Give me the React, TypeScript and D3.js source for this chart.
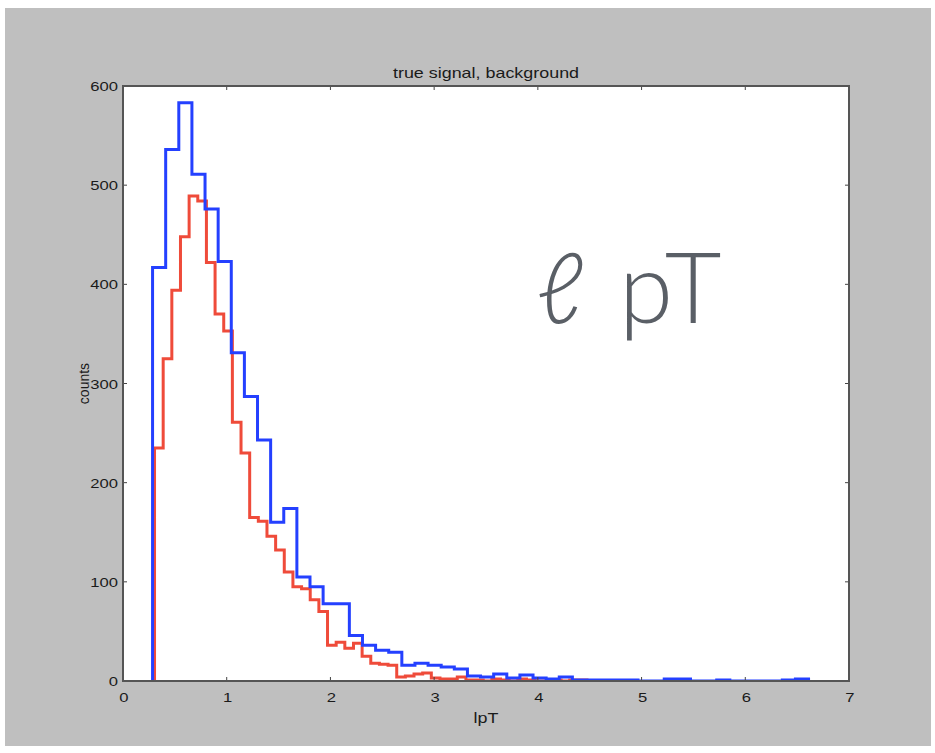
import React from "react";
import * as d3 from "d3";

// Histogram counts per bin (step outlines)
const blueCounts = [
  417, 536, 583, 511, 476, 423, 331, 287, 243, 160,
  174, 105, 95, 78, 78, 46, 36, 31, 29, 16,
  18, 16, 14, 12, 5, 4, 7, 3, 6, 3,
  2, 4, 1, 1, 1, 1, 1, 0, 0, 2,
  2, 0, 0, 1, 0, 0, 0, 0, 1, 2,
];
const redCounts = [
  235, 325, 394, 448, 489, 484, 422, 370, 353, 261,
  230, 165, 161, 146, 132, 110, 95, 93, 82, 70,
  36, 39, 33, 38, 25, 18, 17, 16, 4, 5,
  7, 8, 3, 2, 2, 4, 1, 1, 0, 2,
  1, 0, 2, 1, 0, 0, 1, 0, 1, 1,
];
// Histogram ranges (lpT)
const blueRange = [0.285, 6.61];
const redRange = [0.304, 4.474];

const xTicks = [0, 1, 2, 3, 4, 5, 6, 7];
const yTicks = [0, 100, 200, 300, 400, 500, 600];

const W = 935;
const H = 753;
const plot = { left: 123, right: 849, top: 86, bottom: 681 };
const SX = 1.28; // horizontal stretch of the labels

function edges(range: number[], n: number) {
  const w = (range[1] - range[0]) / n;
  return d3.range(n + 1).map((i) => range[0] + i * w);
}

function Label({ x, y, anchor = "middle", size = 14, children, fill = "#1a1a1a" }: any) {
  return (
    <g transform={`translate(${x},${y}) scale(${SX},1)`}>
      <text
        textAnchor={anchor}
        fontFamily="'Liberation Sans', Arial, sans-serif"
        fontSize={size}
        fill={fill}
      >
        {children}
      </text>
    </g>
  );
}

export default function App() {
  const x = d3.scaleLinear().domain([0, 7]).range([plot.left, plot.right]);
  const y = d3.scaleLinear().domain([0, 600]).range([plot.bottom, plot.top]);
  const line = d3.line<[number, number]>().x((d) => x(d[0])).y((d) => y(d[1]));

  const stepPath = (counts: number[], range: number[]) => {
    const e = edges(range, counts.length);
    const pts: [number, number][] = [[e[0], 0]];
    counts.forEach((c, i) => {
      pts.push([e[i], c]);
      pts.push([e[i + 1], c]);
    });
    pts.push([e[counts.length], 0]);
    return line(pts) || "";
  };

  const tickLen = 4;
  return (
    <svg
      width={W}
      height={H}
      style={{ position: "absolute", left: 0, top: 0, background: "#fff" }}
    >
      <defs>
        <clipPath id="plotClip">
          <rect
            x={plot.left}
            y={plot.top}
            width={plot.right - plot.left}
            height={plot.bottom - plot.top}
          />
        </clipPath>
      </defs>
      <rect x={5} y={8} width={926} height={738} fill="#bfbfbf" />
      <rect
        x={plot.left}
        y={plot.top}
        width={plot.right - plot.left}
        height={plot.bottom - plot.top}
        fill="#fff"
      />

      <g clipPath="url(#plotClip)" fill="none" strokeWidth={3} strokeLinejoin="miter">
        <path d={stepPath(redCounts, redRange)} stroke="#ef4b3a" />
        <path d={stepPath(blueCounts, blueRange)} stroke="#2440ff" />
      </g>

      {/* ticks on all four sides, pointing inward */}
      <g stroke="#444" strokeWidth={1}>
        {xTicks.map((t) => (
          <g key={"xt" + t}>
            <line x1={x(t)} x2={x(t)} y1={plot.bottom} y2={plot.bottom - tickLen} />
            <line x1={x(t)} x2={x(t)} y1={plot.top} y2={plot.top + tickLen} />
          </g>
        ))}
        {yTicks.map((t) => (
          <g key={"yt" + t}>
            <line x1={plot.left} x2={plot.left + tickLen} y1={y(t)} y2={y(t)} />
            <line x1={plot.right} x2={plot.right - tickLen} y1={y(t)} y2={y(t)} />
          </g>
        ))}
      </g>

      <rect
        x={plot.left}
        y={plot.top}
        width={plot.right - plot.left}
        height={plot.bottom - plot.top}
        fill="none"
        stroke="#555"
        strokeWidth={2}
      />

      {xTicks.map((t) => (
        <Label key={"xl" + t} x={x(t) + 1} y={plot.bottom + 21} size={13}>
          {t}
        </Label>
      ))}
      {yTicks.map((t) => (
        <Label key={"yl" + t} x={plot.left - 5} y={y(t) + 5} anchor="end" size={13}>
          {t}
        </Label>
      ))}

      <Label x={(plot.left + plot.right) / 2} y={78} size={14}>
        true signal, background
      </Label>
      <Label x={(plot.left + plot.right) / 2} y={723} size={14}>
        lpT
      </Label>
      <text
        transform={`translate(89,${(plot.top + plot.bottom) / 2}) rotate(-90)`}
        textAnchor="middle"
        fontFamily="'Liberation Sans', Arial, sans-serif"
        fontSize={14}
        fill="#1a1a1a"
      >
        counts
      </text>

      <text
        x={536}
        y={323}
        fontFamily="Lato, 'Open Sans', sans-serif"
        fontWeight={300}
        fontSize={98}
        letterSpacing={4}
        fill="#5a5f66"
      >
        ℓ pT
      </text>
    </svg>
  );
}
